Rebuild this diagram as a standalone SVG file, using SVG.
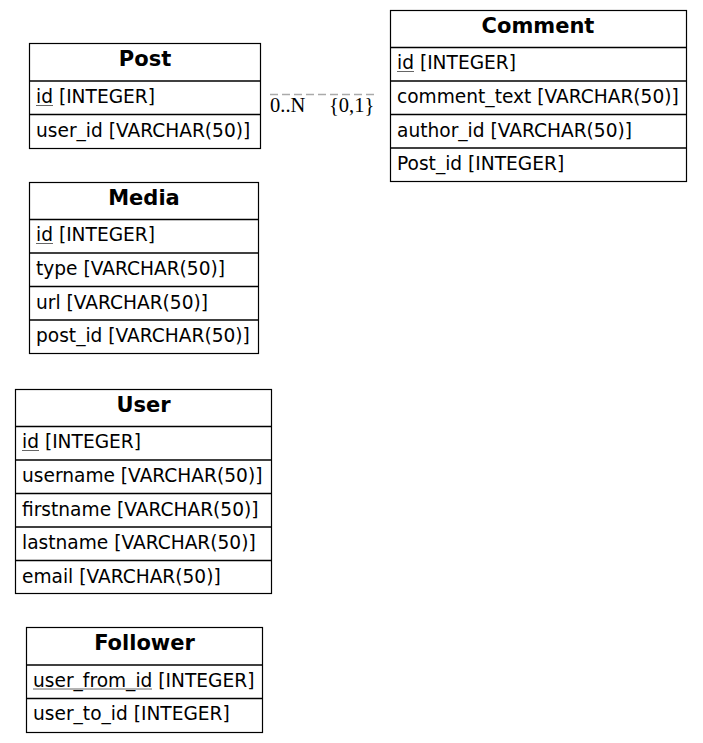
<svg xmlns="http://www.w3.org/2000/svg" width="703" height="743" viewBox="0 0 703 743">
<style>
.box{fill:#fff;stroke:#000;stroke-width:1.2}
.sep{stroke:#000;stroke-width:1.5}
.h{font-family:"DejaVu Sans",sans-serif;font-weight:bold;font-size:21px;text-anchor:middle;fill:#000}
.f{font-family:"DejaVu Sans",sans-serif;font-size:18.6px;fill:#000}
.u{stroke:#666;stroke-width:1}
.lbl{font-family:"Liberation Serif","Times New Roman",serif;font-size:20.5px;fill:#000}
.edge{stroke:#aaa;stroke-width:1.5;stroke-dasharray:8,4;fill:none}
</style>
<rect width="703" height="743" fill="#fff"/>
<g id="connectors">
  <line class="edge" x1="270" y1="94.5" x2="376" y2="94.5"/>
  <text class="lbl" x="270" y="111.5">0..N</text>
  <text class="lbl" x="329" y="111.5">{0,1}</text>
</g>
<g id="Post">
  <rect class="box" x="29.5" y="43.5" width="231" height="105"/>
  <line class="sep" x1="29.5" y1="81" x2="260.5" y2="81"/>
  <line class="sep" x1="29.5" y1="114.5" x2="260.5" y2="114.5"/>
  <text class="h" x="145" y="66">Post</text>
  <text class="f" x="36" y="103">id [INTEGER]</text>
  <line class="u" x1="36" y1="105.5" x2="53" y2="105.5"/>
  <text class="f" x="36" y="136.5">user_id [VARCHAR(50)]</text>
</g>
<g id="Comment">
  <rect class="box" x="390.5" y="10.5" width="296" height="171"/>
  <line class="sep" x1="390.5" y1="47.5" x2="686.5" y2="47.5"/>
  <line class="sep" x1="390.5" y1="81" x2="686.5" y2="81"/>
  <line class="sep" x1="390.5" y1="114.5" x2="686.5" y2="114.5"/>
  <line class="sep" x1="390.5" y1="148" x2="686.5" y2="148"/>
  <text class="h" x="538" y="33">Comment</text>
  <text class="f" x="397" y="69">id [INTEGER]</text>
  <line class="u" x1="397" y1="71.5" x2="414" y2="71.5"/>
  <text class="f" x="397" y="103">comment_text [VARCHAR(50)]</text>
  <text class="f" x="397" y="136.5">author_id [VARCHAR(50)]</text>
  <text class="f" x="397" y="170">Post_id [INTEGER]</text>
</g>
<g id="Media">
  <rect class="box" x="29.5" y="182.5" width="229" height="171"/>
  <line class="sep" x1="29.5" y1="219.5" x2="258.5" y2="219.5"/>
  <line class="sep" x1="29.5" y1="253" x2="258.5" y2="253"/>
  <line class="sep" x1="29.5" y1="286.5" x2="258.5" y2="286.5"/>
  <line class="sep" x1="29.5" y1="320" x2="258.5" y2="320"/>
  <text class="h" x="144" y="205">Media</text>
  <text class="f" x="36" y="241">id [INTEGER]</text>
  <line class="u" x1="36" y1="243.5" x2="53" y2="243.5"/>
  <text class="f" x="36" y="275">type [VARCHAR(50)]</text>
  <text class="f" x="36" y="308.5">url [VARCHAR(50)]</text>
  <text class="f" x="36" y="342">post_id [VARCHAR(50)]</text>
</g>
<g id="User">
  <rect class="box" x="15.5" y="389.5" width="256" height="204"/>
  <line class="sep" x1="15.5" y1="426.5" x2="271.5" y2="426.5"/>
  <line class="sep" x1="15.5" y1="460" x2="271.5" y2="460"/>
  <line class="sep" x1="15.5" y1="493.5" x2="271.5" y2="493.5"/>
  <line class="sep" x1="15.5" y1="527" x2="271.5" y2="527"/>
  <line class="sep" x1="15.5" y1="560.5" x2="271.5" y2="560.5"/>
  <text class="h" x="143.5" y="412">User</text>
  <text class="f" x="22" y="448">id [INTEGER]</text>
  <line class="u" x1="22" y1="450.5" x2="39" y2="450.5"/>
  <text class="f" x="22" y="482">username [VARCHAR(50)]</text>
  <text class="f" x="22" y="515.5">firstname [VARCHAR(50)]</text>
  <text class="f" x="22" y="549">lastname [VARCHAR(50)]</text>
  <text class="f" x="22" y="582.5">email [VARCHAR(50)]</text>
</g>
<g id="Follower">
  <rect class="box" x="26.5" y="627.5" width="236" height="105"/>
  <line class="sep" x1="26.5" y1="665" x2="262.5" y2="665"/>
  <line class="sep" x1="26.5" y1="698.5" x2="262.5" y2="698.5"/>
  <text class="h" x="144.5" y="650">Follower</text>
  <text class="f" x="33" y="686.5">user_from_id [INTEGER]</text>
  <line class="u" x1="33" y1="689" x2="152" y2="689"/>
  <text class="f" x="33" y="720">user_to_id [INTEGER]</text>
</g>
</svg>
